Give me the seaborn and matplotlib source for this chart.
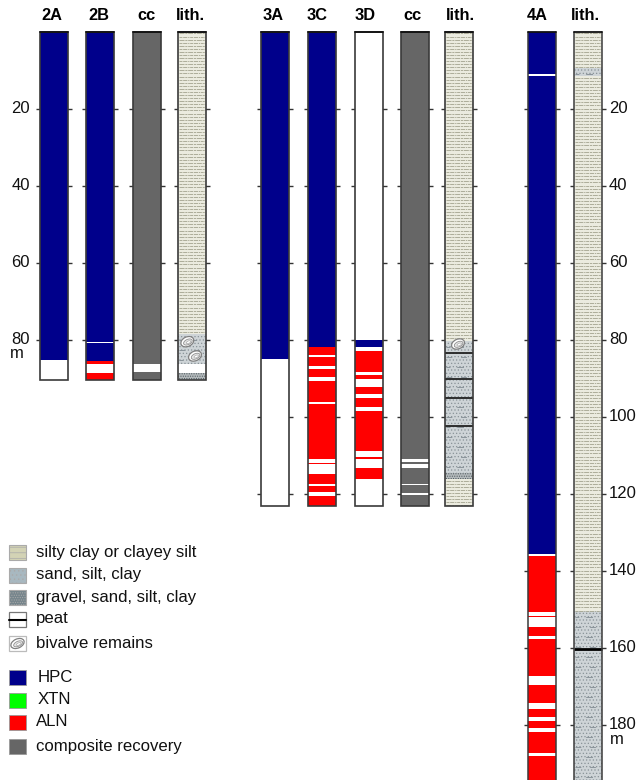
import numpy as np
import matplotlib
matplotlib.use('Agg')
import matplotlib.pyplot as plt
from matplotlib.patches import Rectangle, Ellipse
import seaborn as sns

sns.set_style('white')
plt.rcParams['font.family'] = ['Liberation Sans', 'DejaVu Sans']
plt.rcParams['hatch.linewidth'] = 0.5

# Depth intervals in metres (top, bottom)
hpc_2a = [(0, 85.4)]
gaps_2a = [(85.4, 90.5)]
hpc_2b = [(0, 85.7)]
aln_2b = [(85.7, 90.5)]
gaps_2b = [(80.6, 80.9), (86.4, 88.6)]
cc_2 = [(0, 90.5)]
gaps_cc_2 = [(86.4, 88.5)]

hpc_3a = [(0, 85.1)]
gaps_3a = [(85.1, 123.2)]
hpc_3c = [(0, 81.9)]
aln_3c = [(81.9, 123.2)]
gaps_3c = [(84.1, 84.5), (86.8, 87.7), (89.8, 90.7), (96.3, 96.8), (111.0, 112.0),
           (112.4, 115.0), (117.5, 118.1), (119.7, 120.7)]
hpc_3d = [(80.0, 82.0)]
aln_3d = [(83.1, 116.2)]
gaps_3d = [(0, 80.0), (82.0, 83.1), (88.4, 89.2), (90.3, 92.3), (94.1, 95.3), (97.5, 98.5),
           (108.9, 110.5), (111.0, 113.5), (116.2, 123.2)]
cc_3 = [(0, 123.2)]
gaps_cc_3 = [(111.1, 111.9), (112.4, 113.4), (117.6, 117.9), (119.8, 120.5)]

hpc_4a = [(0, 135.8)]
aln_4a = [(135.8, 195)]
gaps_4a = [(11.1, 11.6), (135.8, 136.2), (150.9, 151.7), (152.2, 154.8), (157.0, 157.8), (167.4, 169.8),
           (174.3, 176.0), (178.1, 179.1), (180.8, 182.0), (187.3, 188.2)]

silt_2 = [(0, 78.7)]
sand_2 = [(78.7, 86.4)]
gravel_2 = [(88.6, 90.5)]
silt_3 = [(0, 80.5), (116.2, 123.2)]
sand_3 = [(80.5, 114.7)]
gravel_3 = [(114.7, 116.2)]
peat_3 = [83.6, 90.3, 95.1, 102.4]
silt_4 = [(0, 9.5), (11.5, 150.5)]
sand_4 = [(9.5, 11.5), (150.5, 195)]
peat_4 = [160.3]

ticks_2 = [20, 40, 60, 80]
ticks_3 = [20, 40, 60, 80, 100, 120]
ticks_4 = [20, 40, 60, 80, 100, 120, 140, 160, 180]

legend_litho = ['silty clay or clayey silt', 'sand, silt, clay', 'gravel, sand, silt, clay', 'peat', 'bivalve remains']
legend_core = ['HPC', 'XTN', 'ALN', 'composite recovery']

# colours and column layout (pixels)
BLUE, GREEN, RED, GREY = '#00008b', '#00ff00', '#ff0000', '#666666'
SILT_BG, SAND_BG, GRAVEL_BG = '#ebebdf', '#ced4d7', '#b4babc'
EDGE = '#3a3a3a'
W = 28
PX_PER_M = 3.85
Y0 = 31.5

fig = plt.figure(figsize=(6.39, 7.8), dpi=100)
ax = fig.add_axes([0, 0, 1, 1])


def bars(x, intervals, color, **kw):
    for top, bottom in intervals:
        sns.barplot(x=[x], y=[bottom - top], bottom=top, native_scale=True, orient='x', width=W,
                    color=color, saturation=1, linewidth=0, errorbar=None, ax=ax, **kw)


def outline(x, end):
    if end > 190:
        ax.plot([x - W / 2, x - W / 2], [0, end], color=EDGE, lw=1.1, zorder=6)
        ax.plot([x + W / 2, x + W / 2], [0, end], color=EDGE, lw=1.1, zorder=6)
    else:
        sns.barplot(x=[x], y=[end], bottom=0, native_scale=True, orient='x', width=W, fill=False,
                    edgecolor=EDGE, linewidth=1.2, errorbar=None, zorder=6, ax=ax)
    ax.plot([x - W / 2, x + W / 2], [0, 0], color='#111111', lw=1.3, zorder=6)


def depth_ticks(x, depths):
    ax.hlines(depths, x - W / 2 - 4, x + W / 2 + 4, color='#333333', lw=1.0, zorder=0.5)


def silt(x, intervals):
    bars(x, intervals, SILT_BG)
    for top, bottom in intervals:
        for i, d in enumerate(np.arange(top + 0.5, bottom, 0.8)):
            ax.plot([x - W / 2 + 1, x + W / 2 - 1], [d, d], color='#a3a38e', lw=0.6, zorder=3,
                    dashes=(3.5, 0.9, 5, 1, 1.5, 0.9) if i % 2 else (6, 1, 2.5, 0.9), dash_capstyle='butt')


def sand(x, intervals, bg=SAND_BG, dots='#8a9499', dense='.....'):
    bars(x, intervals, bg, hatch=dense, edgecolor=dots)
    for top, bottom in intervals:
        for i, d in enumerate(np.arange(top + 1.5, bottom, 2.6)):
            ax.plot([x - W / 2 + 1, x + W / 2 - 1], [d, d], color='#8b959b', lw=0.7, zorder=3,
                    dashes=(6, 9) if i % 2 else (4, 7, 7, 12), dash_capstyle='butt')


def gravel(x, intervals):
    bars(x, intervals, GRAVEL_BG, hatch='.......', edgecolor='#4f595e')


def bivalve(a, cx, cy, w=13.5, h=9.5):
    a.add_patch(Ellipse((cx, cy), w, h, angle=-25, fc='white', ec='#808080', lw=0.9, zorder=5))
    a.add_patch(Ellipse((cx + 0.6, cy + 0.3), w * 0.68, h * 0.55, angle=-25, fc='#e6e6e6', ec='#8f8f8f', lw=0.6, zorder=5))
    a.add_patch(Ellipse((cx + 1.2, cy + 0.5), w * 0.35, h * 0.25, angle=-25, fc='white', ec='#aaaaaa', lw=0.5, zorder=5))


# Site 2
bars(54, hpc_2a, BLUE)
bars(54, gaps_2a, 'white')
bars(100.4, hpc_2b, BLUE)
bars(100.4, aln_2b, RED)
bars(100.4, gaps_2b, 'white')
bars(146.8, cc_2, GREY)
bars(146.8, gaps_cc_2, 'white')
silt(192.4, silt_2)
sand(192.4, sand_2)
gravel(192.4, gravel_2)

# Site 3
bars(274.8, hpc_3a, BLUE)
bars(274.8, gaps_3a, 'white')
bars(322.3, hpc_3c, BLUE)
bars(322.3, aln_3c, RED)
bars(322.3, gaps_3c, 'white')
bars(369, gaps_3d, 'white')
bars(369, hpc_3d, BLUE)
bars(369, aln_3d, RED)
bars(369, [g for g in gaps_3d if g[0] > 82], 'white')
bars(415.2, cc_3, GREY)
bars(415.2, gaps_cc_3, 'white')
silt(458.7, silt_3)
sand(458.7, sand_3)
gravel(458.7, gravel_3)

# Site 4
bars(541.5, hpc_4a, BLUE)
bars(541.5, aln_4a, RED)
bars(541.5, gaps_4a, 'white')
silt(588, silt_4)
sand(588, sand_4)

for x, end, t in [(54, 90.5, ticks_2), (100.4, 90.5, ticks_2), (146.8, 90.5, ticks_2), (192.4, 90.5, ticks_2),
                  (274.8, 123.2, ticks_3), (322.3, 123.2, ticks_3), (369, 123.2, ticks_3), (415.2, 123.2, ticks_3),
                  (458.7, 123.2, ticks_3), (541.5, 195, ticks_4), (588, 195, ticks_4)]:
    outline(x, end)
    depth_ticks(x, t)

ax.hlines(peat_3, 458.7 - W / 2, 458.7 + W / 2, color='#222222', lw=1.3, zorder=4)
ax.hlines(peat_4, 588 - W / 2, 588 + W / 2, color='black', lw=2, zorder=4)

ax.set_xlim(0, 639)
ax.set_ylim((780 - Y0) / PX_PER_M, -Y0 / PX_PER_M)
ax.set_xlabel('')
ax.set_ylabel('')
ax.axis('off')

# Overlay in pixel coordinates for headings and legend
ov = fig.add_axes([0, 0, 1, 1])
ov.set_xlim(0, 639)
ov.set_ylim(780, 0)
ov.axis('off')
ov.patch.set_alpha(0)

for label, x in zip(['2A', '2B', 'cc', 'lith.', '3A', '3C', '3D', 'cc', 'lith.', '4A', 'lith.'],
                    [52, 98.7, 146, 190, 273, 317, 365, 412, 460, 537, 585]):
    ov.text(x, 16, label, ha='center', va='center', fontsize=11.8, fontweight='bold', color='black')

for t in ticks_2:
    ov.text(30, Y0 + t * PX_PER_M, str(t), ha='right', va='center', fontsize=12, color='#111111')
for t in ticks_4:
    ov.text(609, Y0 + t * PX_PER_M, str(t), ha='left', va='center', fontsize=12, color='#111111')
ov.text(10, 354, 'm', ha='left', va='center', fontsize=12, color='#111111')
ov.text(610, 740, 'm', ha='left', va='center', fontsize=12, color='#111111')

# Legend swatches
for label, y in zip(legend_litho, [552, 575, 597.5, 619, 643]):
    ov.text(36, y, label, ha='left', va='center', fontsize=12.1, color='#111111')
ov.add_patch(Rectangle((9, 545), 17, 15, fc='#d3d3b5', ec='#aaaaaa', lw=0.8, hatch='---', zorder=2))
ov.add_patch(Rectangle((9, 568), 17, 15, fc='#a8b8c0', ec='#aaaaaa', lw=0.8, hatch='....', zorder=2))
ov.add_patch(Rectangle((9, 590), 17, 15, fc='#76858c', ec='#aaaaaa', lw=0.8, hatch='.......', zorder=2))
ov.add_patch(Rectangle((9, 612), 17, 15, fc='white', ec='#777777', lw=0.9, zorder=2))
ov.plot([9, 26], [619.5, 619.5], color='black', lw=1.5, zorder=3)
ov.add_patch(Rectangle((9, 636), 17, 15, fc='white', ec='#bbbbbb', lw=0.9, zorder=2))
bivalve(ov, 17.5, 643.5, 14, 9)

for label, y, x, c in zip(legend_core, [677, 700, 722, 746], [38, 37.5, 36, 36], [BLUE, GREEN, RED, GREY]):
    ov.text(x, y, label, ha='left', va='center', fontsize=12.1, color='#111111')
    ov.add_patch(Rectangle((9, y - 7.5), 17, 15.5, fc=c, ec='#999999', lw=0.6, zorder=2))

# Shell fragments in the lith. columns
bivalve(ov, 187.3, 341.7)
bivalve(ov, 195, 356)
bivalve(ov, 458, 344)

fig.savefig('out.png', dpi=100)
